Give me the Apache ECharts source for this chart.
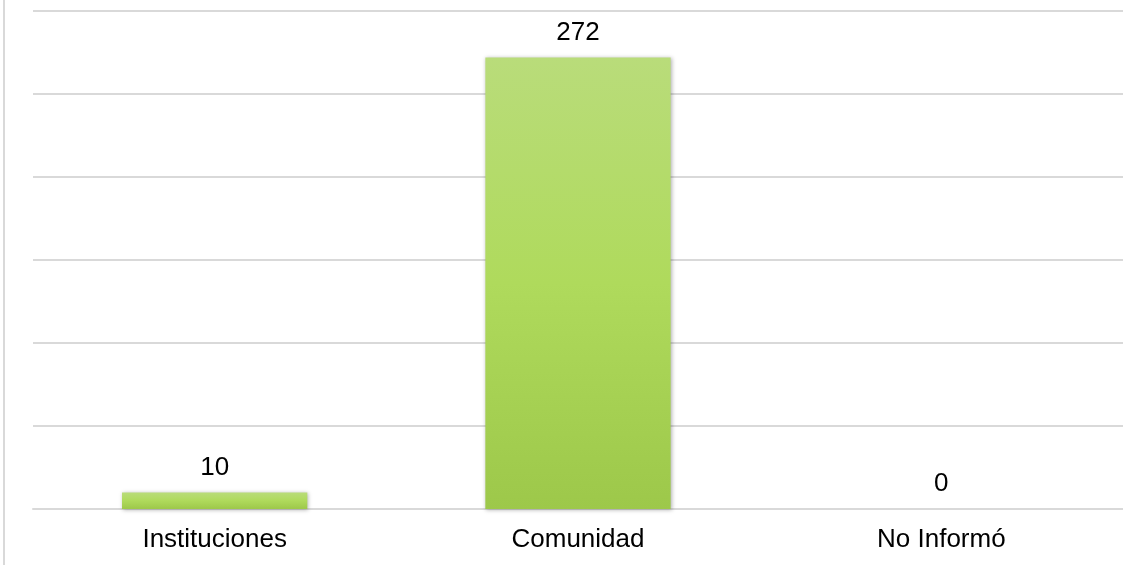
<!DOCTYPE html>
<html>
<head>
<meta charset="utf-8">
<script src="https://cdn.jsdelivr.net/npm/echarts@6/dist/echarts.min.js"></script>
<style>html,body{margin:0;padding:0;background:#fff}#c{width:1123px;height:565px}</style>
</head>
<body>
<div id="c"></div>
<script>
const categories = ['Instituciones', 'Comunidad', 'No Informó'];
const values = [10, 272, 0];
const yMax = 300;
const yInterval = 50;

const chart = echarts.init(document.getElementById('c'), null, {renderer: 'canvas'});
chart.setOption({
  animation: false,
  backgroundColor: '#ffffff',
  textStyle: {fontFamily: 'Liberation Sans, Arial, sans-serif'},
  graphic: [{
    type: 'rect', left: 3, top: 0,
    shape: {width: 2, height: 565},
    style: {fill: '#d9d9d9'}, silent: true
  }],
  grid: {left: 33, right: 0, top: 11, bottom: 56},
  xAxis: {
    type: 'category',
    data: categories,
    axisLine: {show: true, lineStyle: {color: '#d9d9d9', width: 2}},
    axisTick: {show: false},
    axisLabel: {fontSize: 26, color: '#000', margin: 18}
  },
  yAxis: {
    type: 'value',
    min: 0, max: yMax, interval: yInterval,
    axisLine: {show: false},
    axisTick: {show: false},
    axisLabel: {show: false},
    splitLine: {lineStyle: {color: '#d9d9d9', width: 2}}
  },
  series: [{
    type: 'bar',
    data: values,
    barCategoryGap: '49%',
    itemStyle: {
      color: new echarts.graphic.LinearGradient(0, 0, 0, 1, [
        {offset: 0, color: '#b9dc7a'},
        {offset: 0.5, color: '#afda5c'},
        {offset: 1, color: '#9dc84a'}
      ]),
      shadowBlur: 4,
      shadowColor: 'rgba(0,0,0,0.3)',
      shadowOffsetX: 1,
      shadowOffsetY: 1
    },
    label: {
      show: true, position: 'top', distance: 12,
      fontSize: 26, color: '#000'
    }
  }]
});
</script>
</body>
</html>
